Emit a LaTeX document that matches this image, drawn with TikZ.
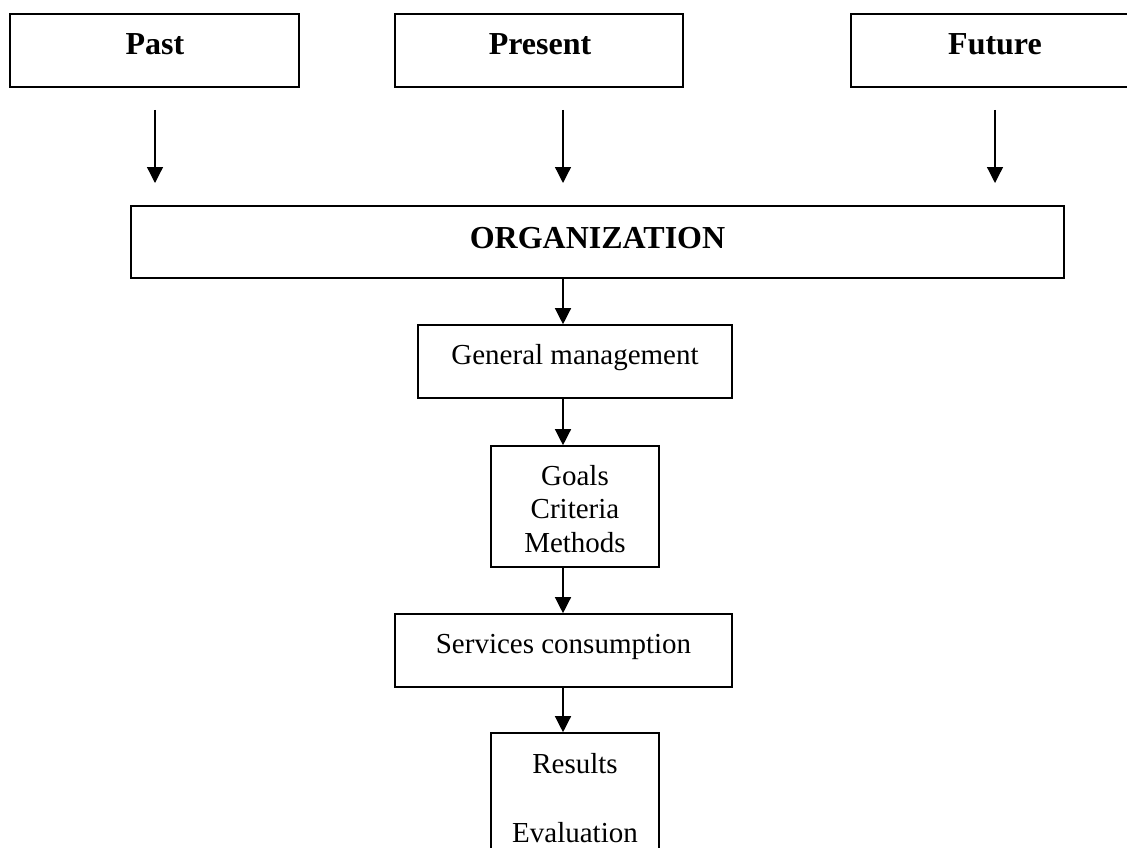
\documentclass[tikz,border=0pt]{standalone}
\usepackage{fontspec}
\setmainfont{Liberation Serif}
\usetikzlibrary{arrows.meta}
\begin{document}
\begin{tikzpicture}[x=1pt,y=-1pt,
  box/.style={draw=black, line width=1.6pt, inner sep=0pt, rectangle},
  btxt/.style={anchor=base, inner sep=0pt, font=\fontsize{32}{36}\selectfont\bfseries},
  rtxt/.style={anchor=base, inner sep=0pt, font=\fontsize{29}{33}\selectfont},
  arr/.style={line width=1.3pt, -{Triangle[width=16pt,length=16pt]}}
]
\clip (0,0) rectangle (1127,848);
\fill[white] (0,0) rectangle (1127,848);
% top boxes
\node[box, minimum width=289pt, minimum height=73pt] (past) at (154.5,50.5) {};
\node[box, minimum width=288pt, minimum height=73pt] (present) at (539,50.5) {};
\node[box, minimum width=289pt, minimum height=73pt] (future) at (995.5,50.5) {};
\node[btxt] (pastt) at (155,55) {Past};
\node[btxt] (presentt) at (540,55) {Present};
\node[btxt] (futuret) at (995,55) {Future};
% organization
\node[box, minimum width=933pt, minimum height=72pt] (org) at (597.5,242) {};
\node[btxt] (orgt) at (597.5,248) {ORGANIZATION};
% axis coordinate
\coordinate (axis) at (563,0);
% arrows from top row
\coordinate (pa1) at (155,110);
\coordinate (pa2) at (155,183);
\coordinate (pr1) at (563,110);
\coordinate (pr2) at (563,183);
\coordinate (fu1) at (995,110);
\coordinate (fu2) at (995,183);
\draw[arr] (pa1) -- (pa2);
\draw[arr] (pr1) -- (pr2);
\draw[arr] (fu1) -- (fu2);
% general management
\node[box, minimum width=314pt, minimum height=73pt] (gm) at (575,361.5) {};
\node[rtxt] (gmt) at (575,364) {General management};
% goals
\node[box, minimum width=168pt, minimum height=121pt] (goals) at (575,506.5) {};
\node[rtxt] (g1) at (575,485) {Goals};
\node[rtxt] (g2) at (575,518.5) {Criteria};
\node[rtxt] (g3) at (575,552) {Methods};
% services
\node[box, minimum width=337pt, minimum height=73pt] (serv) at (563.5,650.5) {};
\node[rtxt] (servt) at (563.5,653) {Services consumption};
% results
\node[box, minimum width=168pt, minimum height=140pt] (res) at (575,803) {};
\node[rtxt] (r1) at (575,773) {Results};
\node[rtxt] (r2) at (575,842) {Evaluation};
% vertical chain
\draw[arr] (org.south -| axis) -- (gm.north -| axis);
\draw[arr] (gm.south -| axis) -- (goals.north -| axis);
\draw[arr] (goals.south -| axis) -- (serv.north -| axis);
\draw[arr] (serv.south -| axis) -- (res.north -| axis);
\end{tikzpicture}
\end{document}
